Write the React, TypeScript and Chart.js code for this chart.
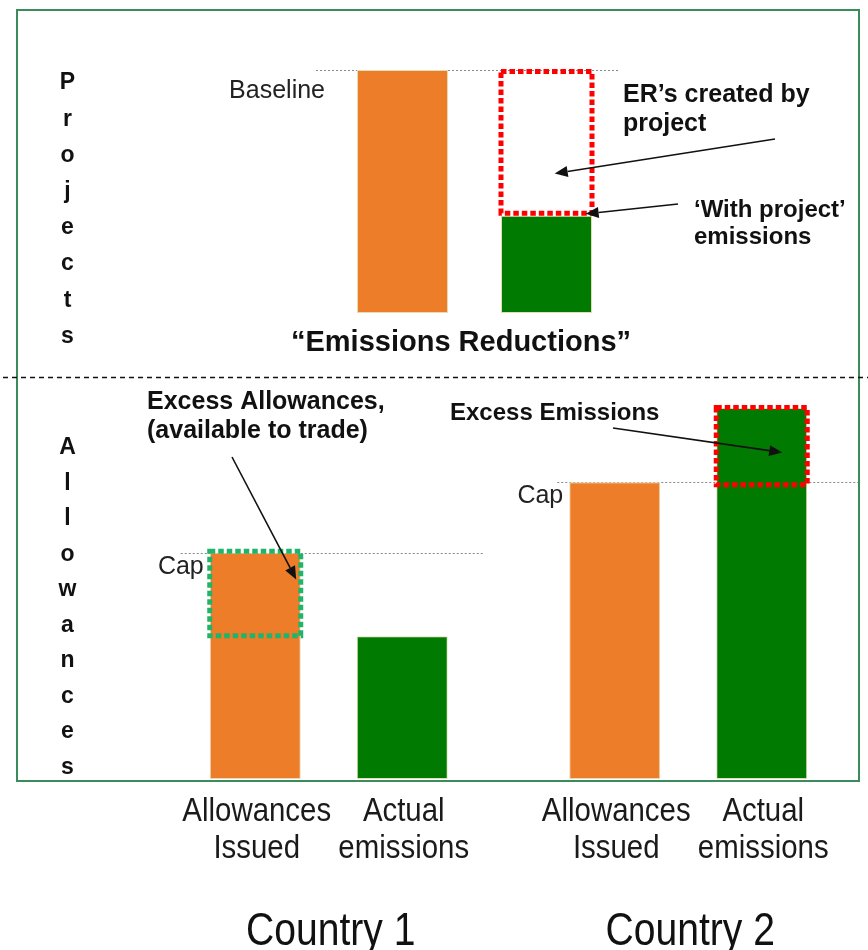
import React, { useEffect, useRef } from "react";
import { Chart, registerables } from "chart.js";

Chart.register(...registerables);

// ---------------- data ----------------
const projectCategories = ["Baseline", "With project"];
const projectEmissions = [100, 40];

const countryCategories = ["Country 1", "Country 2"];
const allowancesIssued = [61, 80];
const actualEmissions = [38.5, 100];
const seriesNames = ["Allowances Issued", "Actual emissions"];
const barLabelLines = [
  ["Allowances", "Issued"],
  ["Actual", "emissions"],
];

const sideTitles = ["Projects", "Allowances"];
const projectsTitle = "\u201CEmissions Reductions\u201D";
const erNote = ["ER\u2019s created by", "project"];
const withProjectNote = ["\u2018With project\u2019", "emissions"];
const excessAllowancesNote = ["Excess Allowances,", "(available to trade)"];
const excessEmissionsNote = ["Excess Emissions"];
const baselineLabel = "Baseline";
const capLabel = "Cap";

// ---------------- styles ----------------
const W = 868;
const H = 950;
const ORANGE = "#ED7D28";
const GREEN = "#007A00";
const BAR_EDGE = "#E4DDB2";
const RED_DOT = "#FF0000";
const GREEN_DOT = "#20B46A";
const FRAME = "#3B8B5D";
const SANS = '"Liberation Sans", Arial, sans-serif';
const FRAME_BOX = { left: 17, top: 10, right: 859, bottom: 781 };

const lerp = (a: number, b: number, t: number) => a + (b - a) * t;

function hairline(ctx: CanvasRenderingContext2D, x1: number, x2: number, y: number) {
  ctx.save();
  ctx.strokeStyle = "#8a8a8a";
  ctx.lineWidth = 1;
  ctx.setLineDash([2, 2]);
  ctx.beginPath();
  ctx.moveTo(x1, Math.round(y) + 0.5);
  ctx.lineTo(x2, Math.round(y) + 0.5);
  ctx.stroke();
  ctx.restore();
}

function dottedBox(ctx: CanvasRenderingContext2D, l: number, t: number, r: number, b: number, color: string) {
  ctx.save();
  ctx.strokeStyle = color;
  ctx.lineWidth = 5;
  ctx.setLineDash([5.5, 3]);
  ctx.strokeRect(l, t, r - l, b - t);
  ctx.restore();
}

function arrow(ctx: CanvasRenderingContext2D, x1: number, y1: number, x2: number, y2: number) {
  const ang = Math.atan2(y2 - y1, x2 - x1);
  const hl = 13;
  const hw = 5.5;
  const bx = x2 - Math.cos(ang) * hl;
  const by = y2 - Math.sin(ang) * hl;
  ctx.save();
  ctx.strokeStyle = "#111";
  ctx.fillStyle = "#111";
  ctx.lineWidth = 1.6;
  ctx.beginPath();
  ctx.moveTo(x1, y1);
  ctx.lineTo(bx, by);
  ctx.stroke();
  ctx.beginPath();
  ctx.moveTo(x2, y2);
  ctx.lineTo(bx - Math.sin(ang) * hw, by + Math.cos(ang) * hw);
  ctx.lineTo(bx + Math.sin(ang) * hw, by - Math.cos(ang) * hw);
  ctx.closePath();
  ctx.fill();
  ctx.restore();
}

function textLines(
  ctx: CanvasRenderingContext2D,
  lines: string[],
  x: number,
  y: number,
  lineHeight: number,
  font: string,
  align: CanvasTextAlign = "left",
  color = "#111",
  squeeze = 1
) {
  ctx.save();
  ctx.font = font;
  ctx.fillStyle = color;
  ctx.textAlign = align;
  ctx.textBaseline = "alphabetic";
  lines.forEach((s, i) => {
    ctx.save();
    ctx.translate(x, y + i * lineHeight);
    ctx.scale(squeeze, 1);
    ctx.fillText(s, 0, 0);
    ctx.restore();
  });
  ctx.restore();
}

function sideWord(ctx: CanvasRenderingContext2D, word: string, x: number, y0: number, step: number) {
  ctx.save();
  ctx.font = `bold 23px ${SANS}`;
  ctx.fillStyle = "#111";
  ctx.textAlign = "center";
  ctx.textBaseline = "middle";
  word.split("").forEach((ch, i) => ctx.fillText(ch, x, y0 + i * step));
  ctx.restore();
}

const barBounds = (el: any) => ({ l: el.x - el.width / 2, r: el.x + el.width / 2 });

// ---------------- plugins ----------------
const projectsDecor = {
  id: "projectsDecor",
  beforeDatasetsDraw(chart: any) {
    const ctx = chart.ctx;
    const y = chart.scales.y;
    const [b, p] = chart.getDatasetMeta(0).data;
    const yb = y.getPixelForValue(projectEmissions[0]);
    hairline(ctx, barBounds(b).l - 41, barBounds(p).r + 28, yb);
  },
  afterDatasetsDraw(chart: any) {
    const ctx = chart.ctx;
    const y = chart.scales.y;
    const [b, p] = chart.getDatasetMeta(0).data;
    const yb = y.getPixelForValue(projectEmissions[0]);
    const yp = y.getPixelForValue(projectEmissions[1]);
    const pb = barBounds(p);
    // reductions box (baseline minus with-project)
    dottedBox(ctx, pb.l, yb + 1.5, pb.r, yp - 2.5, RED_DOT);

    textLines(ctx, [baselineLabel], barBounds(b).l - 32, yb + 28, 0, `25px ${SANS}`, "right", "#222");
    textLines(ctx, erNote, 623, 102, 29, `bold 25px ${SANS}`);
    textLines(ctx, withProjectNote, 694, 217, 27, `bold 24px ${SANS}`);
    arrow(ctx, 775, 139, lerp(pb.l, pb.r, 0.59), lerp(yb, yp, 0.71));
    arrow(ctx, 678, 204, lerp(pb.l, pb.r, 0.93), yp - 2);

    textLines(ctx, [projectsTitle], 461, 351, 0, `bold 29px ${SANS}`, "center");
    sideWord(ctx, sideTitles[0], 67.5, 83, 36.2);
  },
};

const allowancesDecor = {
  id: "allowancesDecor",
  beforeDatasetsDraw(chart: any) {
    const ctx = chart.ctx;
    const y = chart.scales.y;
    const aMeta = chart.getDatasetMeta(0).data;
    const eMeta = chart.getDatasetMeta(1).data;
    const reach = [
      { before: 29, after: 35 },
      { before: 12, after: 60 },
    ];
    countryCategories.forEach((_, i) => {
      const yc = y.getPixelForValue(allowancesIssued[i]);
      const x1 = barBounds(aMeta[i]).l - reach[i].before;
      const x2 = Math.min(barBounds(eMeta[i]).r + reach[i].after, FRAME_BOX.right);
      hairline(ctx, x1, x2, yc);
    });
  },
  afterDatasetsDraw(chart: any) {
    const ctx = chart.ctx;
    const y = chart.scales.y;
    const x = chart.scales.x;
    const area = chart.chartArea;
    const metas = [chart.getDatasetMeta(0).data, chart.getDatasetMeta(1).data];
    const boxes: any[] = [];

    countryCategories.forEach((name, i) => {
      const cap = allowancesIssued[i];
      const act = actualEmissions[i];
      const yc = y.getPixelForValue(cap);
      const ya = y.getPixelForValue(act);
      const aB = barBounds(metas[0][i]);
      textLines(ctx, [capLabel], aB.l - 6, yc + 21, 0, `25px ${SANS}`, "right", "#222");

      if (cap > act) {
        dottedBox(ctx, aB.l, yc - 1.5, aB.r, ya - 0.5, GREEN_DOT);
        boxes.push({ l: aB.l, r: aB.r, t: yc, b: ya });
      } else {
        const eB = barBounds(metas[1][i]);
        dottedBox(ctx, eB.l, ya - 0.5, eB.r, yc + 2.5, RED_DOT);
        boxes.push({ l: eB.l, r: eB.r, t: ya, b: yc });
      }

      // bar labels under each bar (condensed)
      metas.forEach((m, d) => {
        textLines(ctx, barLabelLines[d], m[i].x + 1.5, area.bottom + 42, 37, `34px ${SANS}`, "center", "#1a1a1a", 0.865);
      });
      // country label (condensed)
      textLines(ctx, [name], x.getPixelForValue(i) + 2, 945, 0, `46px ${SANS}`, "center", "#111", 0.85);
    });

    textLines(ctx, excessAllowancesNote, 147, 409, 29, `bold 25px ${SANS}`);
    const b0 = boxes[0];
    arrow(ctx, 232, 457, lerp(b0.l, b0.r, 0.95), lerp(b0.t, b0.b, 0.32));

    textLines(ctx, excessEmissionsNote, 450, 420, 0, `bold 24px ${SANS}`);
    const b1 = boxes[1];
    arrow(ctx, 613, 428, lerp(b1.l, b1.r, 0.725), lerp(b1.t, b1.b, 0.6));

    sideWord(ctx, sideTitles[1], 67.5, 448, 35.5);

    // frame and panel separator
    ctx.save();
    ctx.strokeStyle = FRAME;
    ctx.lineWidth = 2;
    ctx.strokeRect(FRAME_BOX.left, FRAME_BOX.top, FRAME_BOX.right - FRAME_BOX.left, FRAME_BOX.bottom - FRAME_BOX.top);
    ctx.strokeStyle = "#111";
    ctx.lineWidth = 1.5;
    ctx.setLineDash([5, 4]);
    ctx.beginPath();
    ctx.moveTo(3, 377.5);
    ctx.lineTo(W, 377.5);
    ctx.stroke();
    ctx.restore();
  },
};

export default function App() {
  const topRef = useRef<HTMLCanvasElement | null>(null);
  const bottomRef = useRef<HTMLCanvasElement | null>(null);

  useEffect(() => {
    if (!topRef.current || !bottomRef.current) return;
    const barStyle = { borderColor: BAR_EDGE, borderWidth: 1, borderSkipped: false as const };

    const top = new Chart(topRef.current, {
      type: "bar",
      data: {
        labels: projectCategories,
        datasets: [
          {
            label: "Emissions",
            data: projectEmissions,
            backgroundColor: [ORANGE, GREEN],
            ...barStyle,
            categoryPercentage: 1,
            barPercentage: 0.632,
          },
        ],
      },
      options: {
        responsive: false,
        animation: false,
        layout: { padding: { left: 330.5, right: W - 618.5, top: 70, bottom: H - 313 } },
        plugins: { legend: { display: false }, tooltip: { enabled: false } },
        scales: {
          x: { display: false },
          y: { display: false, min: 0, max: 100 },
        },
      },
      plugins: [projectsDecor],
    });

    const bottom = new Chart(bottomRef.current, {
      type: "bar",
      data: {
        labels: countryCategories,
        datasets: [
          { label: seriesNames[0], data: allowancesIssued, backgroundColor: ORANGE, ...barStyle },
          { label: seriesNames[1], data: actualEmissions, backgroundColor: GREEN, ...barStyle },
        ],
      },
      options: {
        responsive: false,
        animation: false,
        datasets: { bar: { categoryPercentage: 0.8178, barPercentage: 0.619 } },
        layout: { padding: { left: 149, right: 0, top: 408, bottom: H - 779 } },
        plugins: { legend: { display: false }, tooltip: { enabled: false } },
        scales: {
          x: { display: false },
          y: { display: false, min: 0, max: 100 },
        },
      },
      plugins: [allowancesDecor],
    });

    return () => {
      top.destroy();
      bottom.destroy();
    };
  }, []);

  return (
    <div style={{ position: "absolute", left: 0, top: 0, width: W, height: H, background: "#fff", overflow: "hidden" }}>
      <canvas ref={topRef} width={W} height={H} style={{ position: "absolute", left: 0, top: 0 }} />
      <canvas ref={bottomRef} width={W} height={H} style={{ position: "absolute", left: 0, top: 0 }} />
    </div>
  );
}
